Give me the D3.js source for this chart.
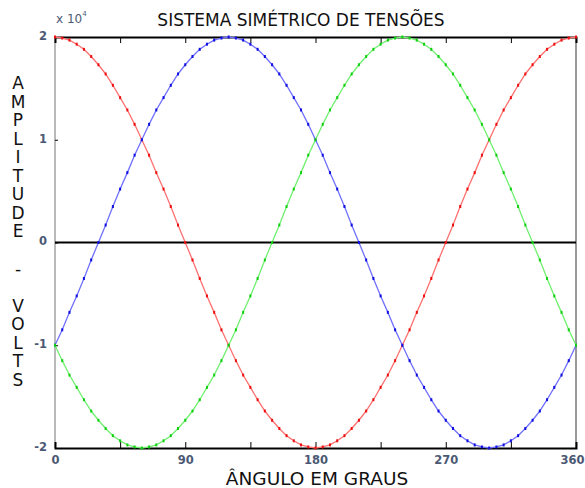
<!DOCTYPE html>
<html>
<head>
<meta charset="utf-8">
<script src="https://cdn.jsdelivr.net/npm/d3@7"></script>
<style>
  html, body { margin: 0; padding: 0; background: #fff; }
  svg { display: block; }
</style>
</head>
<body>
<svg id="chart" width="585" height="488"></svg>
<script>
// Phase angle in degrees, sampled every 5 degrees
const angles = d3.range(0, 361, 5);

// Phase voltages (x 10^4 V)
const phaseRed = [
  2.00, 1.99, 1.97, 1.93, 1.88, 1.81, 1.73, 1.64, 1.53, 1.41, 1.29, 1.15, 1.00, 0.85, 0.68, 0.52, 0.35, 0.17,
  0.00, -0.17, -0.35, -0.52, -0.68, -0.85, -1.00, -1.15, -1.29, -1.41, -1.53, -1.64, -1.73, -1.81, -1.88, -1.93, -1.97, -1.99,
  -2.00, -1.99, -1.97, -1.93, -1.88, -1.81, -1.73, -1.64, -1.53, -1.41, -1.29, -1.15, -1.00, -0.85, -0.68, -0.52, -0.35, -0.17,
  0.00, 0.17, 0.35, 0.52, 0.68, 0.85, 1.00, 1.15, 1.29, 1.41, 1.53, 1.64, 1.73, 1.81, 1.88, 1.93, 1.97, 1.99,
  2.00
];
const phaseBlue = [
  -1.00, -0.85, -0.68, -0.52, -0.35, -0.17, 0.00, 0.17, 0.35, 0.52, 0.68, 0.85, 1.00, 1.15, 1.29, 1.41, 1.53, 1.64,
  1.73, 1.81, 1.88, 1.93, 1.97, 1.99, 2.00, 1.99, 1.97, 1.93, 1.88, 1.81, 1.73, 1.64, 1.53, 1.41, 1.29, 1.15,
  1.00, 0.85, 0.68, 0.52, 0.35, 0.17, 0.00, -0.17, -0.35, -0.52, -0.68, -0.85, -1.00, -1.15, -1.29, -1.41, -1.53, -1.64,
  -1.73, -1.81, -1.88, -1.93, -1.97, -1.99, -2.00, -1.99, -1.97, -1.93, -1.88, -1.81, -1.73, -1.64, -1.53, -1.41, -1.29, -1.15,
  -1.00
];
const phaseGreen = [
  -1.00, -1.15, -1.29, -1.41, -1.53, -1.64, -1.73, -1.81, -1.88, -1.93, -1.97, -1.99, -2.00, -1.99, -1.97, -1.93, -1.88, -1.81,
  -1.73, -1.64, -1.53, -1.41, -1.29, -1.15, -1.00, -0.85, -0.68, -0.52, -0.35, -0.17, 0.00, 0.17, 0.35, 0.52, 0.68, 0.85,
  1.00, 1.15, 1.29, 1.41, 1.53, 1.64, 1.73, 1.81, 1.88, 1.93, 1.97, 1.99, 2.00, 1.99, 1.97, 1.93, 1.88, 1.81,
  1.73, 1.64, 1.53, 1.41, 1.29, 1.15, 1.00, 0.85, 0.68, 0.52, 0.35, 0.17, 0.00, -0.17, -0.35, -0.52, -0.68, -0.85,
  -1.00
];

const xTickValues = [0, 45, 90, 135, 180, 225, 270, 315, 360];
const xTickLabels = ["0", "", "90", "", "180", "", "270", "", "360"];
const yTickValues = [-2, -1, 0, 1, 2];
const yTickLabels = ["-2", "-1", "0", "1", "2"];

const titleText = "SISTEMA SIMÉTRICO DE TENSÕES";
const xLabelText = "ÂNGULO EM GRAUS";
const yLabelText = "AMPLITUDE - VOLTS";

const series = [
  { values: phaseRed,   line: "#ff7070", mark: "#ee1010" },
  { values: phaseBlue,  line: "#7070ff", mark: "#1010e0" },
  { values: phaseGreen, line: "#70f070", mark: "#10d010" }
];

const svg = d3.select("#chart");
const plot = { left: 55, right: 576, top: 37, bottom: 448 };

const x = d3.scaleLinear().domain([0, 360]).range([plot.left, plot.right]);
const y = d3.scaleLinear().domain([-2, 2]).range([plot.bottom, plot.top]);

const tickFont = "DejaVu Sans, sans-serif";
const tickColor = "#2c3c5c";

// Frame: grey left edge, black top/bottom, dark right edge
svg.append("line").attr("x1", plot.left).attr("x2", plot.left)
  .attr("y1", plot.top).attr("y2", plot.bottom)
  .attr("stroke", "#8a8a8a").attr("stroke-width", 1.2);
svg.append("line").attr("x1", plot.right).attr("x2", plot.right)
  .attr("y1", plot.top).attr("y2", plot.bottom)
  .attr("stroke", "#555").attr("stroke-width", 1.2);

// Top and bottom axes with inward ticks
const xTop = d3.axisBottom(x).tickValues(xTickValues).tickSize(6).tickFormat("");
svg.append("g").attr("transform", `translate(0,${plot.top})`).call(xTop)
  .call(g => g.select(".domain").attr("stroke", "#000").attr("stroke-width", 2));
const xBottom = d3.axisTop(x).tickValues(xTickValues).tickSize(6)
  .tickFormat((d, i) => xTickLabels[i]);
const gxb = svg.append("g").attr("transform", `translate(0,${plot.bottom})`).call(xBottom);
gxb.select(".domain").attr("stroke", "#000").attr("stroke-width", 2);
gxb.selectAll("text").attr("y", 16).attr("dy", "0")
  .attr("font-family", tickFont).attr("font-size", 11.5).attr("font-weight", "bold")
  .attr("fill", tickColor).attr("opacity", 0.85);
// keep the last label inside the page edge
gxb.selectAll("text").filter(d => d === 360).attr("text-anchor", "end").attr("x", 584 - x(360));

// Left axis with short inward ticks
const yLeft = d3.axisRight(y).tickValues(yTickValues).tickSize(3)
  .tickFormat((d, i) => yTickLabels[i]);
const gyl = svg.append("g").attr("transform", `translate(${plot.left},0)`).call(yLeft);
gyl.select(".domain").remove();
gyl.selectAll("text").attr("x", -8).attr("dy", "0.2em").attr("text-anchor", "end")
  .attr("font-family", tickFont).attr("font-size", 11.5).attr("font-weight", "bold")
  .attr("fill", tickColor).attr("opacity", 0.85);

// Scale factor note
const exp = svg.append("text").attr("x", plot.left + 1).attr("y", 23)
  .attr("font-family", tickFont).attr("font-size", 12).attr("fill", tickColor).attr("opacity", 0.85);
exp.append("tspan").text("x 10");
exp.append("tspan").attr("dy", -7).attr("font-size", 7).text("4");

// Zero reference line
svg.append("line").attr("x1", plot.left).attr("x2", plot.right)
  .attr("y1", y(0)).attr("y2", y(0))
  .attr("stroke", "#000").attr("stroke-width", 2);

// Phase waveforms: light trace with darker sample marks
const line = d3.line().x((d, i) => x(angles[i])).y(d => y(d));
series.forEach(s => {
  svg.append("path").datum(s.values)
    .attr("d", line)
    .attr("fill", "none").attr("stroke", s.line).attr("stroke-width", 1.3);
  svg.append("g").selectAll("rect").data(s.values).join("rect")
    .attr("x", (d, i) => x(angles[i]) - 1)
    .attr("y", d => y(d) - 1.5)
    .attr("width", 2).attr("height", 3)
    .attr("fill", s.mark);
});

// Title and axis labels
svg.append("text").attr("x", 301).attr("y", 26).attr("text-anchor", "middle")
  .attr("font-family", "DejaVu Sans, sans-serif").attr("font-size", 17).attr("fill", "#111")
  .text(titleText);
svg.append("text").attr("x", 317).attr("y", 485).attr("text-anchor", "middle")
  .attr("font-family", "DejaVu Sans, sans-serif").attr("font-size", 18.5).attr("fill", "#111")
  .text(xLabelText);

const yLabel = svg.append("text")
  .attr("font-family", "DejaVu Sans, sans-serif").attr("font-size", 17).attr("fill", "#111")
  .attr("text-anchor", "middle");
yLabel.selectAll("tspan").data(Array.from(yLabelText)).join("tspan")
  .attr("x", 18)
  .attr("y", (d, i) => 89 + i * 18.56)
  .text(d => d);
</script>
</body>
</html>
